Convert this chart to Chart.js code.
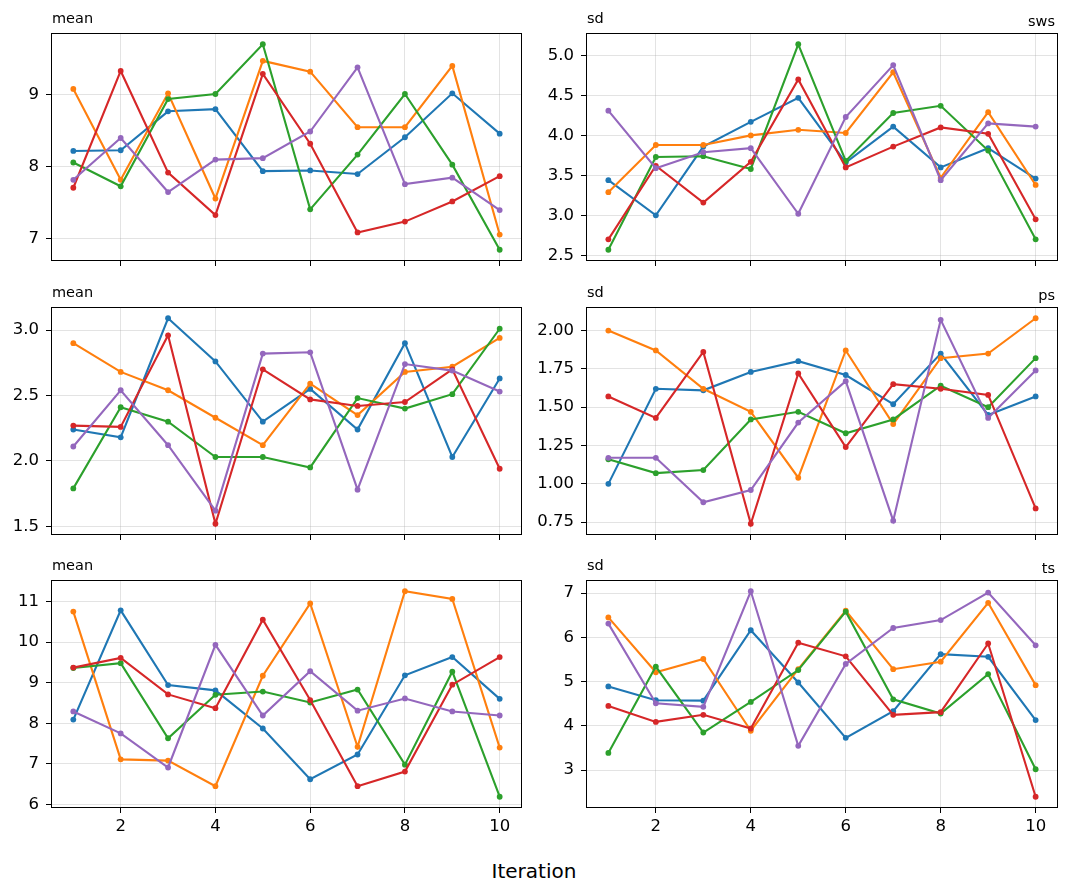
<!DOCTYPE html>
<html>
<head>
<meta charset="utf-8">
<script src="https://cdn.jsdelivr.net/npm/chart.js@4.4.0/dist/chart.umd.min.js"></script>
<style>
  body { margin: 0; background: #fff; width: 1068px; height: 895px; position: relative; overflow: hidden; font-family: "DejaVu Sans", sans-serif; }
  canvas { position: absolute; }
  #xlabel { position: absolute; left: 0; width: 1068px; top: 859px; line-height: 24px; text-align: center; font-size: 20px; color: #000; }
</style>
</head>
<body>
<div id="xlabel">Iteration</div>
<script>
const iterations = [1, 2, 3, 4, 5, 6, 7, 8, 9, 10];
const xTicks = [2, 4, 6, 8, 10];
const colors = ['#1f77b4', '#ff7f0e', '#2ca02c', '#d62728', '#9467bd'];

// sws
const swsMean = [
    [8.22, 8.23, 8.77, 8.80, 7.94, 7.95, 7.90, 8.41, 9.02, 8.46],
    [9.08, 7.82, 9.02, 7.56, 9.47, 9.32, 8.55, 8.55, 9.40, 7.06],
    [8.06, 7.73, 8.94, 9.01, 9.70, 7.41, 8.17, 9.01, 8.03, 6.85],
    [7.71, 9.33, 7.92, 7.33, 9.29, 8.32, 7.09, 7.24, 7.52, 7.87],
    [7.82, 8.40, 7.65, 8.10, 8.12, 8.49, 9.38, 7.76, 7.85, 7.40],
];
const swsSd = [
    [3.44, 3.00, 3.86, 4.17, 4.47, 3.66, 4.11, 3.60, 3.84, 3.46],
    [3.29, 3.88, 3.88, 4.00, 4.07, 4.03, 4.79, 3.47, 4.29, 3.38],
    [2.57, 3.73, 3.74, 3.58, 5.14, 3.68, 4.28, 4.37, 3.81, 2.70],
    [2.70, 3.62, 3.16, 3.67, 4.70, 3.60, 3.86, 4.10, 4.02, 2.95],
    [4.31, 3.59, 3.79, 3.84, 3.02, 4.23, 4.88, 3.44, 4.15, 4.11],
];
// ps
const psMean = [
    [2.24, 2.18, 3.09, 2.76, 2.30, 2.55, 2.24, 2.90, 2.03, 2.63],
    [2.90, 2.68, 2.54, 2.33, 2.12, 2.59, 2.35, 2.68, 2.72, 2.94],
    [1.79, 2.41, 2.30, 2.03, 2.03, 1.95, 2.48, 2.40, 2.51, 3.01],
    [2.27, 2.26, 2.96, 1.52, 2.70, 2.47, 2.42, 2.45, 2.70, 1.94],
    [2.11, 2.54, 2.12, 1.62, 2.82, 2.83, 1.78, 2.74, 2.69, 2.53],
];
const psSd = [
    [1.00, 1.62, 1.61, 1.73, 1.80, 1.71, 1.52, 1.85, 1.45, 1.57],
    [2.00, 1.87, 1.62, 1.47, 1.04, 1.87, 1.39, 1.82, 1.85, 2.08],
    [1.16, 1.07, 1.09, 1.42, 1.47, 1.33, 1.42, 1.64, 1.50, 1.82],
    [1.57, 1.43, 1.86, 0.74, 1.72, 1.24, 1.65, 1.62, 1.58, 0.84],
    [1.17, 1.17, 0.88, 0.96, 1.40, 1.67, 0.76, 2.07, 1.43, 1.74],
];
// ts
const tsMean = [
    [8.09, 10.78, 8.94, 8.81, 7.87, 6.62, 7.23, 9.18, 9.63, 8.60],
    [10.75, 7.11, 7.08, 6.45, 9.17, 10.95, 7.42, 11.25, 11.06, 7.40],
    [9.36, 9.48, 7.63, 8.70, 8.78, 8.51, 8.83, 6.98, 9.27, 6.19],
    [9.37, 9.61, 8.71, 8.37, 10.55, 8.57, 6.45, 6.81, 8.95, 9.63],
    [8.29, 7.75, 6.91, 9.93, 8.19, 9.28, 8.31, 8.61, 8.29, 8.19],
];
const tsSd = [
    [4.89, 4.58, 4.57, 6.16, 4.98, 3.73, 4.33, 5.62, 5.56, 4.13],
    [6.45, 5.21, 5.51, 3.89, 5.28, 6.60, 5.28, 5.45, 6.78, 4.92],
    [3.39, 5.34, 3.85, 4.54, 5.26, 6.58, 4.60, 4.28, 5.17, 3.02],
    [4.45, 4.09, 4.25, 3.94, 5.88, 5.57, 4.25, 4.31, 5.86, 2.40],
    [6.31, 4.51, 4.43, 7.04, 3.55, 5.40, 6.21, 6.39, 7.01, 5.82],
];

const swsMeanTicks = [7, 8, 9];
const swsSdTicks = [2.5, 3.0, 3.5, 4.0, 4.5, 5.0];
const psMeanTicks = [1.5, 2.0, 2.5, 3.0];
const psSdTicks = [0.75, 1.00, 1.25, 1.50, 1.75, 2.00];
const tsMeanTicks = [6, 7, 8, 9, 10, 11];
const tsSdTicks = [3, 4, 5, 6, 7];

const panels = [
    { series: swsMean, ticks: swsMeanTicks, dec: 0, title: 'mean', tag: '',    col: 0, row: 0 },
    { series: swsSd,   ticks: swsSdTicks,   dec: 1, title: 'sd',   tag: 'sws', col: 1, row: 0 },
    { series: psMean,  ticks: psMeanTicks,  dec: 1, title: 'mean', tag: '',    col: 0, row: 1 },
    { series: psSd,    ticks: psSdTicks,    dec: 2, title: 'sd',   tag: 'ps',  col: 1, row: 1 },
    { series: tsMean,  ticks: tsMeanTicks,  dec: 0, title: 'mean', tag: '',    col: 0, row: 2 },
    { series: tsSd,    ticks: tsSdTicks,    dec: 0, title: 'sd',   tag: 'ts',  col: 1, row: 2 },
];

const colLeft = [52, 587], colWidth = [469, 470];
const rowTop = [34, 308, 581], plotH = 226;
const padL = 55, padR = 12, padT = 30, padB = 38;

// frame round the plot + the small panel titles
const frame = {
    id: 'frame',
    afterDatasetsDraw(chart, args, opts) {
        const a = chart.chartArea, ctx = chart.ctx;
        ctx.save();
        ctx.strokeStyle = '#000';
        ctx.lineWidth = 1;
        ctx.strokeRect(Math.round(a.left) - 0.5, Math.round(a.top) - 0.5,
            Math.round(a.right - a.left) + 1, Math.round(a.bottom - a.top) + 1);
        ctx.fillStyle = '#000';
        ctx.font = '14.5px "DejaVu Sans"';
        ctx.textBaseline = 'alphabetic';
        ctx.textAlign = 'left';
        ctx.fillText(opts.title, a.left, a.top - 11);
        if (opts.tag) {
            ctx.textAlign = 'right';
            ctx.fillText(opts.tag, a.right - 2, a.top - 8);
        }
        ctx.restore();
    }
};

panels.forEach(p => {
    const cv = document.createElement('canvas');
    const w = padL + colWidth[p.col] + padR, h = padT + plotH + padB;
    cv.width = w; cv.height = h;
    cv.style.left = (colLeft[p.col] - padL) + 'px';
    cv.style.top = (rowTop[p.row] - padT) + 'px';
    document.body.appendChild(cv);

    const all = p.series.flat();
    const lo = Math.min(...all), hi = Math.max(...all), m = (hi - lo) * 0.05;
    const bottomRow = p.row === 2;
    const gridOpts = { color: 'rgba(176,176,176,0.35)', lineWidth: 1, tickColor: '#000', tickLength: 6, tickWidth: 1 };

    new Chart(cv, {
        type: 'line',
        data: {
            datasets: p.series.map((s, i) => ({
                data: s.map((v, j) => ({ x: iterations[j], y: v })),
                borderColor: colors[i],
                backgroundColor: colors[i],
                pointBackgroundColor: colors[i],
                borderWidth: 2.1,
                pointRadius: 2.9,
                pointBorderWidth: 0,
                tension: 0,
                fill: false,
                order: 4 - i,
            }))
        },
        options: {
            responsive: false,
            animation: false,
            events: [],
            layout: { padding: { left: 0, right: padR, top: padT, bottom: 0 } },
            plugins: {
                legend: { display: false },
                tooltip: { enabled: false },
                frame: { title: p.title, tag: p.tag },
            },
            scales: {
                x: {
                    type: 'linear',
                    min: 0.55,
                    max: 10.45,
                    afterBuildTicks: s => { s.ticks = xTicks.map(v => ({ value: v })); },
                    afterFit: s => { s.height = padB; },
                    grid: gridOpts,
                    border: { display: false },
                    ticks: {
                        color: '#000',
                        font: { family: 'DejaVu Sans', size: 16.5 },
                        padding: 4,
                        maxRotation: 0,
                        callback: v => bottomRow ? String(v) : '',
                    },
                },
                y: {
                    min: lo - m,
                    max: hi + m,
                    afterBuildTicks: s => { s.ticks = p.ticks.map(v => ({ value: v })); },
                    afterFit: s => { s.width = padL; },
                    grid: gridOpts,
                    border: { display: false },
                    ticks: {
                        color: '#000',
                        font: { family: 'DejaVu Sans', size: 16.5 },
                        padding: 7,
                        callback: v => Number(v).toFixed(p.dec),
                    },
                },
            },
        },
        plugins: [frame],
    });
});
</script>
</body>
</html>
